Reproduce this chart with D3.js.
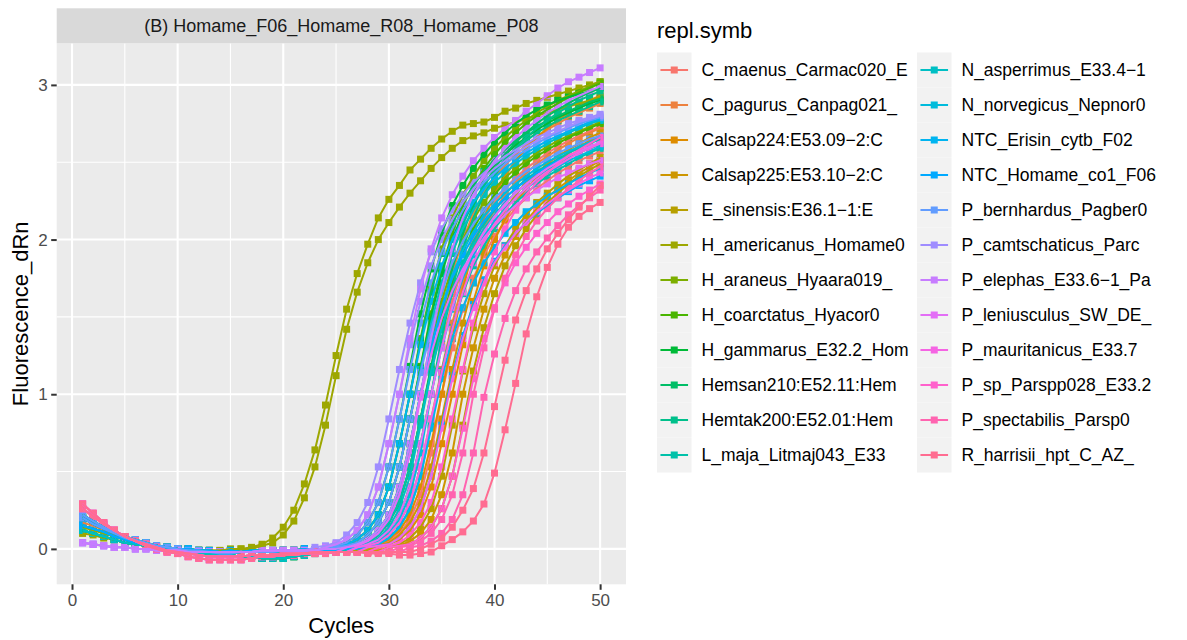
<!DOCTYPE html>
<html>
<head>
<meta charset="utf-8">
<script src="https://cdn.jsdelivr.net/npm/d3@7"></script>
<style>
  body { margin: 0; background: #fff; }
  text { font-family: "Liberation Sans", Arial, Helvetica, sans-serif; }
</style>
</head>
<body>
<div id="chart"></div>
<script>
// ---- data ----
const cycles = [1,2,3,4,5,6,7,8,9,10,11,12,13,14,15,16,17,18,19,20,21,22,23,24,25,26,27,28,29,30,31,32,33,34,35,36,37,38,39,40,41,42,43,44,45,46,47,48,49,50];
const xTicks = [0, 10, 20, 30, 40, 50];
const xMinor = [5, 15, 25, 35, 45];
const yTicks = [0, 1, 2, 3];
const yMinor = [0.5, 1.5, 2.5];

const groupNames = ["C_maenus_Carmac020_E","C_pagurus_Canpag021_","Calsap224:E53.09−2:C","Calsap225:E53.10−2:C",
  "E_sinensis:E36.1−1:E","H_americanus_Homame0","H_araneus_Hyaara019_","H_coarctatus_Hyacor0",
  "H_gammarus_E32.2_Hom","Hemsan210:E52.11:Hem","Hemtak200:E52.01:Hem","L_maja_Litmaj043_E33",
  "N_asperrimus_E33.4−1","N_norvegicus_Nepnor0","NTC_Erisin_cytb_F02","NTC_Homame_co1_F06",
  "P_bernhardus_Pagber0","P_camtschaticus_Parc","P_elephas_E33.6−1_Pa","P_leniusculus_SW_DE_",
  "P_mauritanicus_E33.7","P_sp_Parspp028_E33.2","P_spectabilis_Parsp0","R_harrisii_hpt_C_AZ_"];

// fluorescence (dRn) per cycle 1..50, two replicates per sample
const cMaenus1 = [0.20,0.16,0.13,0.10,0.07,0.05,0.03,0.02,0.01,0.00,-0.01,-0.01,-0.02,-0.02,-0.02,-0.02,-0.02,-0.02,-0.01,-0.01,-0.01,-0.01,-0.01,-0.01,-0.01,0.00,
  0.01,0.03,0.06,0.12,0.22,0.40,0.68,1.00,1.32,1.60,1.83,2.00,2.13,2.24,2.33,2.40,2.46,2.51,2.56,2.60,2.64,2.67,2.70,2.73];
const cMaenus2 = [0.15,0.13,0.11,0.08,0.06,0.04,0.03,0.02,0.01,0.00,0.00,-0.01,-0.01,-0.02,-0.01,-0.02,-0.01,-0.01,-0.02,-0.01,-0.01,0.00,-0.01,0.00,0.00,0.00,0.00,
  0.01,0.02,0.05,0.10,0.19,0.35,0.62,1.00,1.30,1.55,1.75,1.90,2.02,2.12,2.20,2.27,2.33,2.38,2.43,2.47,2.51,2.54,2.57];
const cPagurus1 = [0.22,0.18,0.14,0.11,0.08,0.06,0.04,0.02,0.01,0.00,-0.01,-0.02,-0.02,-0.03,-0.03,-0.02,-0.02,-0.02,-0.02,-0.01,-0.01,-0.01,-0.01,0.00,0.00,
  0.01,0.02,0.04,0.09,0.17,0.30,0.53,0.84,1.17,1.50,1.78,2.00,2.17,2.30,2.40,2.48,2.55,2.61,2.66,2.71,2.75,2.79,2.82,2.85,2.88];
const cPagurus2 = [0.17,0.15,0.12,0.10,0.07,0.05,0.03,0.02,0.01,0.00,-0.01,-0.01,-0.02,-0.02,-0.02,-0.02,-0.02,-0.02,-0.01,-0.01,-0.01,-0.01,-0.01,-0.01,-0.01,0.00,
  0.01,0.02,0.04,0.09,0.17,0.30,0.53,0.84,1.16,1.46,1.72,1.92,2.07,2.19,2.29,2.37,2.43,2.49,2.54,2.58,2.62,2.66,2.69,2.72];
const cCalsap224a = [0.15,0.13,0.11,0.08,0.06,0.04,0.03,0.02,0.01,0.00,0.00,-0.01,-0.01,-0.02,-0.01,-0.02,-0.01,-0.01,-0.02,-0.01,-0.01,0.00,-0.01,0.00,0.00,0.00,0.00,
  0.01,0.03,0.06,0.12,0.22,0.40,0.68,1.00,1.36,1.68,1.94,2.14,2.29,2.41,2.51,2.59,2.66,2.72,2.77,2.82,2.86,2.90,2.93];
const cCalsap224b = [0.22,0.18,0.14,0.11,0.08,0.06,0.04,0.02,0.01,0.00,-0.01,-0.02,-0.02,-0.03,-0.03,-0.02,-0.02,-0.02,-0.02,-0.01,-0.01,-0.01,-0.01,0.00,0.00,0.00,0.00,0.00,
  0.01,0.03,0.06,0.12,0.22,0.40,0.68,1.00,1.32,1.60,1.83,2.00,2.13,2.24,2.33,2.40,2.46,2.51,2.56,2.60,2.64,2.67];
const cCalsap225a = [0.20,0.16,0.13,0.10,0.07,0.05,0.03,0.02,0.01,0.00,-0.01,-0.01,-0.02,-0.02,-0.02,-0.02,-0.02,-0.02,-0.01,-0.01,-0.01,-0.01,-0.01,-0.01,-0.01,0.00,0.00,
  0.01,0.02,0.04,0.09,0.17,0.30,0.53,0.84,1.16,1.46,1.72,1.92,2.07,2.19,2.29,2.37,2.43,2.49,2.54,2.58,2.62,2.66,2.69];
const cCalsap225b = [0.12,0.10,0.08,0.06,0.04,0.03,0.02,0.01,0.00,-0.01,-0.02,-0.03,-0.03,-0.04,-0.04,-0.05,-0.05,-0.06,-0.06,-0.06,-0.05,-0.04,-0.03,-0.02,-0.02,-0.01,-0.01,-0.01,-0.01,
  0.01,0.02,0.05,0.10,0.19,0.35,0.62,1.00,1.30,1.55,1.75,1.90,2.02,2.12,2.20,2.27,2.33,2.38,2.43,2.47,2.51];
const cEsinensis1 = [0.12,0.10,0.08,0.06,0.04,0.03,0.02,0.01,0.00,-0.01,-0.02,-0.03,-0.03,-0.04,-0.04,-0.05,-0.05,-0.06,-0.06,-0.06,-0.05,-0.04,-0.03,-0.02,-0.02,-0.01,-0.01,-0.01,
  0.01,0.02,0.03,0.07,0.14,0.26,0.47,0.80,1.15,1.43,1.65,1.83,1.96,2.07,2.16,2.24,2.30,2.36,2.41,2.45,2.49,2.53];
const cEsinensis2 = [0.26,0.21,0.16,0.12,0.08,0.05,0.03,0.01,-0.01,-0.02,-0.03,-0.04,-0.05,-0.05,-0.05,-0.05,-0.04,-0.04,-0.04,-0.03,-0.03,-0.03,-0.02,-0.02,-0.02,-0.02,-0.02,-0.02,-0.02,
  0.01,0.02,0.03,0.07,0.14,0.26,0.47,0.80,1.15,1.43,1.65,1.83,1.96,2.07,2.16,2.24,2.30,2.36,2.41,2.45,2.49];
const cHamer1 = [0.14,0.12,0.10,0.08,0.06,0.04,0.03,0.02,0.01,0.00,0.00,-0.01,-0.01,-0.01,0.00,0.00,
  0.01,0.03,0.07,0.14,0.25,0.42,0.64,0.93,1.25,1.55,1.78,1.97,2.14,2.26,2.35,2.45,2.52,2.59,2.65,2.70,2.74,2.75,2.76,2.79,2.83,2.85,2.88,2.90,2.92,2.94,2.96,2.98,3.00,3.02];
const cHamer2 = [0.10,0.09,0.07,0.06,0.04,0.03,0.02,0.01,0.00,0.00,-0.01,-0.01,-0.01,-0.01,-0.01,0.00,0.00,
  0.02,0.04,0.09,0.18,0.33,0.53,0.80,1.12,1.42,1.66,1.85,2.00,2.11,2.21,2.30,2.38,2.46,2.53,2.59,2.64,2.67,2.69,2.72,2.74,2.76,2.78,2.80,2.82,2.84,2.86,2.88,2.90,2.92];
const cHaraneus1 = [0.15,0.13,0.11,0.08,0.06,0.04,0.03,0.02,0.01,0.00,0.00,-0.01,-0.01,-0.02,-0.01,-0.02,-0.01,-0.01,-0.02,-0.01,-0.01,0.00,-0.01,0.00,
  0.01,0.03,0.06,0.12,0.22,0.40,0.68,1.00,1.36,1.68,1.94,2.14,2.29,2.41,2.51,2.59,2.66,2.72,2.77,2.82,2.86,2.90,2.93,2.96,2.99,3.02];
const cHaraneus2 = [0.20,0.16,0.13,0.10,0.07,0.05,0.03,0.02,0.01,0.00,-0.01,-0.01,-0.02,-0.02,-0.02,-0.02,-0.02,-0.02,-0.01,-0.01,-0.01,-0.01,-0.01,-0.01,-0.01,
  0.01,0.03,0.06,0.12,0.22,0.40,0.68,1.00,1.32,1.60,1.83,2.00,2.13,2.24,2.33,2.40,2.46,2.51,2.56,2.60,2.64,2.67,2.70,2.73,2.76];
const cHcoarct1 = [0.12,0.10,0.08,0.06,0.04,0.03,0.02,0.01,0.00,-0.01,-0.02,-0.03,-0.03,-0.04,-0.04,-0.05,-0.05,-0.06,-0.06,-0.06,-0.05,-0.04,-0.03,-0.02,
  0.01,0.02,0.04,0.09,0.17,0.30,0.53,0.84,1.18,1.52,1.81,2.04,2.22,2.35,2.46,2.55,2.63,2.69,2.75,2.80,2.84,2.88,2.92,2.95,2.98,3.01];
const cHcoarct2 = [0.15,0.13,0.11,0.08,0.06,0.04,0.03,0.02,0.01,0.00,0.00,-0.01,-0.01,-0.02,-0.01,-0.02,-0.01,-0.01,-0.02,-0.01,-0.01,0.00,-0.01,0.00,0.00,
  0.01,0.02,0.04,0.09,0.17,0.30,0.53,0.84,1.16,1.46,1.72,1.92,2.07,2.19,2.29,2.37,2.43,2.49,2.54,2.58,2.62,2.66,2.69,2.72,2.75];
const cHgammarus1 = [0.20,0.16,0.13,0.10,0.07,0.05,0.03,0.02,0.01,0.00,-0.01,-0.01,-0.02,-0.02,-0.02,-0.02,-0.02,-0.02,-0.01,-0.01,-0.01,-0.01,-0.01,
  0.01,0.02,0.04,0.09,0.17,0.30,0.53,0.84,1.18,1.52,1.81,2.04,2.22,2.35,2.46,2.55,2.63,2.69,2.75,2.80,2.84,2.87,2.90,2.92,2.94,2.96,2.98];
const cHgammarus2 = [0.22,0.18,0.14,0.11,0.08,0.06,0.04,0.02,0.01,0.00,-0.01,-0.02,-0.02,-0.03,-0.03,-0.02,-0.02,-0.02,-0.02,-0.01,-0.01,-0.01,-0.01,0.00,
  0.01,0.02,0.04,0.09,0.17,0.30,0.53,0.84,1.17,1.50,1.78,2.00,2.17,2.30,2.40,2.48,2.55,2.61,2.66,2.71,2.75,2.79,2.82,2.85,2.88,2.90];
const cHemsan1 = [0.12,0.10,0.08,0.06,0.04,0.03,0.02,0.01,0.00,-0.01,-0.02,-0.03,-0.03,-0.04,-0.04,-0.05,-0.05,-0.06,-0.06,-0.06,-0.05,-0.04,-0.03,-0.02,
  0.01,0.03,0.06,0.12,0.22,0.40,0.68,1.00,1.35,1.66,1.91,2.10,2.24,2.35,2.44,2.52,2.58,2.64,2.69,2.73,2.77,2.80,2.83,2.86,2.89,2.91];
const cHemsan2 = [0.15,0.13,0.11,0.08,0.06,0.04,0.03,0.02,0.01,0.00,0.00,-0.01,-0.01,-0.02,-0.01,-0.02,-0.01,-0.01,-0.02,-0.01,-0.01,0.00,-0.01,0.00,0.00,
  0.01,0.02,0.04,0.09,0.17,0.30,0.53,0.84,1.18,1.52,1.81,2.04,2.22,2.35,2.46,2.55,2.63,2.69,2.75,2.80,2.84,2.88,2.92,2.95,2.98];
const cHemtak1 = [0.12,0.10,0.08,0.06,0.04,0.03,0.02,0.01,0.00,-0.01,-0.02,-0.03,-0.03,-0.04,-0.04,-0.05,-0.05,-0.06,-0.06,-0.06,-0.05,-0.04,-0.03,-0.02,-0.02,
  0.01,0.03,0.06,0.12,0.22,0.40,0.68,1.00,1.35,1.66,1.91,2.10,2.24,2.35,2.44,2.52,2.58,2.64,2.69,2.73,2.77,2.80,2.83,2.86,2.89];
const cHemtak2 = [0.20,0.16,0.13,0.10,0.07,0.05,0.03,0.02,0.01,0.00,-0.01,-0.01,-0.02,-0.02,-0.02,-0.02,-0.02,-0.02,-0.01,-0.01,-0.01,-0.01,-0.01,-0.01,-0.01,0.00,
  0.01,0.03,0.06,0.12,0.22,0.40,0.68,1.00,1.36,1.68,1.94,2.14,2.29,2.41,2.51,2.59,2.66,2.72,2.77,2.82,2.86,2.90,2.93,2.96];
const cLmaja1 = [0.12,0.10,0.08,0.06,0.04,0.03,0.02,0.01,0.00,-0.01,-0.02,-0.03,-0.03,-0.04,-0.04,-0.05,-0.05,-0.06,-0.06,-0.06,-0.05,-0.04,-0.03,-0.02,-0.02,
  0.01,0.02,0.04,0.09,0.17,0.30,0.53,0.84,1.14,1.42,1.66,1.85,1.99,2.10,2.19,2.27,2.33,2.39,2.44,2.48,2.52,2.56,2.59,2.62,2.65];
const cLmaja2 = [0.12,0.10,0.08,0.06,0.04,0.03,0.02,0.01,0.00,-0.01,-0.02,-0.03,-0.03,-0.04,-0.04,-0.05,-0.05,-0.06,-0.06,-0.06,-0.05,-0.04,-0.03,-0.02,-0.02,-0.01,
  0.01,0.02,0.03,0.07,0.14,0.26,0.47,0.80,1.15,1.43,1.65,1.83,1.96,2.07,2.16,2.24,2.30,2.36,2.41,2.45,2.49,2.53,2.56,2.59];
const cNasp1 = [0.12,0.10,0.08,0.06,0.04,0.03,0.02,0.01,0.00,-0.01,-0.02,-0.03,-0.03,-0.04,-0.04,-0.05,-0.05,-0.06,-0.06,-0.06,-0.05,-0.04,-0.03,-0.02,
  0.01,0.02,0.04,0.09,0.17,0.30,0.53,0.84,1.16,1.46,1.72,1.92,2.07,2.19,2.29,2.37,2.43,2.49,2.54,2.58,2.62,2.66,2.69,2.72,2.75,2.77];
const cNasp2 = [0.15,0.13,0.11,0.08,0.06,0.04,0.03,0.02,0.01,0.00,0.00,-0.01,-0.01,-0.02,-0.01,-0.02,-0.01,-0.01,-0.02,-0.01,-0.01,0.00,-0.01,0.00,0.00,
  0.01,0.02,0.03,0.07,0.14,0.26,0.47,0.80,1.15,1.43,1.65,1.83,1.96,2.07,2.16,2.24,2.30,2.36,2.41,2.45,2.49,2.53,2.56,2.59,2.61];
const cNnor1 = [0.22,0.18,0.14,0.11,0.08,0.06,0.04,0.02,0.01,0.00,-0.01,-0.02,-0.02,-0.03,-0.03,-0.02,-0.02,-0.02,-0.02,-0.01,-0.01,-0.01,-0.01,0.00,0.00,
  0.01,0.03,0.06,0.12,0.22,0.40,0.68,1.00,1.30,1.56,1.77,1.93,2.05,2.15,2.23,2.30,2.36,2.41,2.46,2.50,2.54,2.57,2.60,2.63,2.66];
const cNnor2 = [0.20,0.16,0.13,0.10,0.07,0.05,0.03,0.02,0.01,0.00,-0.01,-0.01,-0.02,-0.02,-0.02,-0.02,-0.02,-0.02,-0.01,-0.01,-0.01,-0.01,-0.01,-0.01,-0.01,0.00,
  0.01,0.02,0.05,0.10,0.19,0.35,0.62,1.00,1.30,1.55,1.75,1.90,2.02,2.12,2.20,2.27,2.33,2.38,2.43,2.47,2.51,2.54,2.57,2.60];
const cNtcEri1 = [0.15,0.13,0.11,0.08,0.06,0.04,0.03,0.02,0.01,0.00,0.00,-0.01,-0.01,-0.02,-0.01,-0.02,-0.01,-0.01,-0.02,-0.01,-0.01,0.00,-0.01,0.00,
  0.01,0.03,0.06,0.12,0.22,0.40,0.68,1.00,1.32,1.60,1.83,2.00,2.13,2.24,2.33,2.40,2.46,2.51,2.56,2.60,2.64,2.67,2.70,2.73,2.76,2.78];
const cNtcEri2 = [0.22,0.18,0.14,0.11,0.08,0.06,0.04,0.02,0.01,0.00,-0.01,-0.02,-0.02,-0.03,-0.03,-0.02,-0.02,-0.02,-0.02,-0.01,-0.01,-0.01,-0.01,0.00,0.00,0.00,
  0.01,0.02,0.03,0.07,0.14,0.26,0.47,0.78,1.10,1.36,1.56,1.72,1.85,1.95,2.04,2.11,2.18,2.23,2.28,2.32,2.36,2.40,2.43,2.46];
const cNtcHom1 = [0.20,0.16,0.13,0.10,0.07,0.05,0.03,0.02,0.01,0.00,-0.01,-0.01,-0.02,-0.02,-0.02,-0.02,-0.02,-0.02,-0.01,-0.01,-0.01,-0.01,-0.01,-0.01,-0.01,
  0.01,0.02,0.05,0.10,0.19,0.35,0.62,1.00,1.30,1.55,1.75,1.90,2.02,2.12,2.20,2.27,2.33,2.38,2.43,2.47,2.51,2.54,2.57,2.60,2.62];
const cNtcHom2 = [0.15,0.13,0.11,0.08,0.06,0.04,0.03,0.02,0.01,0.00,0.00,-0.01,-0.01,-0.02,-0.01,-0.02,-0.01,-0.01,-0.02,-0.01,-0.01,0.00,-0.01,0.00,0.00,0.00,0.00,
  0.01,0.02,0.03,0.07,0.14,0.26,0.47,0.80,1.12,1.38,1.58,1.74,1.86,1.96,2.04,2.11,2.17,2.22,2.27,2.31,2.35,2.38,2.41];
const cPbern1 = [0.20,0.16,0.13,0.10,0.07,0.05,0.03,0.02,0.01,0.00,-0.01,-0.01,-0.02,-0.02,-0.02,-0.02,-0.02,-0.02,-0.01,-0.01,-0.01,-0.01,-0.01,
  0.01,0.02,0.04,0.09,0.17,0.30,0.53,0.84,1.16,1.46,1.72,1.92,2.07,2.19,2.29,2.37,2.43,2.49,2.54,2.58,2.62,2.66,2.69,2.72,2.75,2.77,2.79];
const cPbern2 = [0.22,0.18,0.14,0.11,0.08,0.06,0.04,0.02,0.01,0.00,-0.01,-0.02,-0.02,-0.03,-0.03,-0.02,-0.02,-0.02,-0.02,-0.01,-0.01,-0.01,-0.01,0.00,
  0.01,0.02,0.04,0.09,0.17,0.30,0.53,0.84,1.14,1.42,1.66,1.85,1.99,2.10,2.19,2.27,2.33,2.39,2.44,2.48,2.52,2.56,2.59,2.62,2.65,2.67];
const cPcamt1 = [0.04,0.03,0.02,0.01,0.01,0.00,0.00,-0.01,-0.01,-0.01,-0.02,-0.02,-0.02,-0.02,-0.02,-0.02,-0.02,-0.01,-0.01,-0.01,-0.01,-0.01,
  0.01,0.02,0.04,0.09,0.17,0.30,0.53,0.84,1.16,1.46,1.72,1.92,2.07,2.19,2.29,2.37,2.43,2.49,2.54,2.58,2.62,2.66,2.69,2.72,2.75,2.77,2.79,2.81];
const cPcamt2 = [0.04,0.03,0.02,0.01,0.01,0.00,0.00,-0.01,-0.01,-0.01,-0.02,-0.02,-0.02,-0.02,-0.02,-0.02,-0.02,-0.01,-0.01,-0.01,-0.01,-0.01,-0.01,
  0.01,0.03,0.06,0.12,0.22,0.40,0.68,1.00,1.32,1.60,1.83,2.00,2.13,2.24,2.33,2.40,2.46,2.51,2.56,2.60,2.64,2.67,2.70,2.73,2.76,2.78,2.80];
const cPeleph1 = [0.04,0.03,0.02,0.01,0.01,0.00,0.00,-0.01,-0.01,-0.01,-0.02,-0.02,-0.02,-0.02,-0.02,-0.02,-0.02,-0.01,-0.01,-0.01,-0.01,-0.01,-0.01,
  0.01,0.03,0.06,0.12,0.22,0.40,0.68,1.00,1.36,1.68,1.94,2.14,2.29,2.41,2.51,2.59,2.66,2.72,2.77,2.83,2.88,2.93,2.98,3.02,3.05,3.08,3.11];
const cPeleph2 = [0.04,0.03,0.02,0.01,0.01,0.00,0.00,-0.01,-0.01,-0.01,-0.02,-0.02,-0.02,-0.02,-0.02,-0.02,-0.02,-0.01,-0.01,-0.01,-0.01,-0.01,-0.01,0.00,0.00,
  0.01,0.03,0.06,0.12,0.22,0.40,0.68,1.00,1.36,1.68,1.94,2.14,2.29,2.41,2.51,2.59,2.66,2.72,2.77,2.82,2.86,2.90,2.93,2.96,2.99];
const cPleni1 = [0.29,0.23,0.17,0.12,0.08,0.05,0.02,0.00,-0.02,-0.03,-0.05,-0.06,-0.07,-0.07,-0.07,-0.07,-0.06,-0.05,-0.05,-0.04,-0.04,-0.03,-0.03,-0.03,-0.02,
  0.01,0.02,0.05,0.10,0.19,0.35,0.62,0.98,1.26,1.49,1.67,1.81,1.92,2.01,2.09,2.16,2.22,2.27,2.32,2.36,2.40,2.43,2.46,2.49,2.51];
const cPleni2 = [0.26,0.21,0.16,0.12,0.08,0.05,0.03,0.01,-0.01,-0.02,-0.03,-0.04,-0.05,-0.05,-0.05,-0.05,-0.04,-0.04,-0.04,-0.03,-0.03,-0.03,-0.02,-0.02,-0.02,-0.02,
  0.01,0.03,0.06,0.12,0.22,0.40,0.68,1.00,1.30,1.56,1.77,1.93,2.05,2.15,2.23,2.30,2.36,2.41,2.46,2.50,2.54,2.57,2.60,2.63];
const cPmaur1 = [0.29,0.23,0.17,0.12,0.08,0.05,0.02,0.00,-0.02,-0.03,-0.05,-0.06,-0.07,-0.07,-0.07,-0.07,-0.06,-0.05,-0.05,-0.04,-0.04,-0.03,-0.03,-0.03,-0.02,-0.02,
  0.01,0.02,0.04,0.09,0.17,0.30,0.53,0.84,1.14,1.42,1.66,1.85,1.99,2.10,2.19,2.27,2.33,2.39,2.44,2.48,2.52,2.56,2.59,2.62];
const cPmaur2 = [0.26,0.21,0.16,0.12,0.08,0.05,0.03,0.01,-0.01,-0.02,-0.03,-0.04,-0.05,-0.05,-0.05,-0.05,-0.04,-0.04,-0.04,-0.03,-0.03,-0.03,-0.02,-0.02,-0.02,-0.02,-0.02,
  0.01,0.02,0.03,0.07,0.14,0.26,0.47,0.78,1.10,1.36,1.56,1.72,1.85,1.95,2.04,2.11,2.18,2.23,2.28,2.32,2.36,2.40,2.43];
const cPsp1 = [0.29,0.23,0.17,0.12,0.08,0.05,0.02,0.00,-0.02,-0.03,-0.05,-0.06,-0.07,-0.07,-0.07,-0.07,-0.06,-0.05,-0.05,-0.04,-0.04,-0.03,-0.03,-0.03,-0.02,-0.02,-0.02,-0.02,
  0.01,0.02,0.04,0.09,0.17,0.30,0.53,0.84,1.16,1.46,1.72,1.92,2.07,2.19,2.29,2.37,2.43,2.49,2.54,2.58,2.62,2.66];
const cPsp2 = [0.26,0.21,0.16,0.12,0.08,0.05,0.03,0.01,-0.01,-0.02,-0.03,-0.04,-0.05,-0.05,-0.05,-0.05,-0.04,-0.04,-0.04,-0.03,-0.03,-0.03,-0.02,-0.02,-0.02,-0.02,-0.02,-0.02,-0.02,
  0.01,0.02,0.03,0.07,0.14,0.26,0.47,0.78,1.10,1.36,1.56,1.72,1.85,1.95,2.04,2.11,2.18,2.23,2.28,2.32,2.36];
const cPspec1 = [0.29,0.23,0.17,0.12,0.08,0.05,0.02,0.00,-0.02,-0.03,-0.05,-0.06,-0.07,-0.07,-0.07,-0.07,-0.06,-0.05,-0.05,-0.04,-0.04,-0.03,-0.03,-0.03,-0.02,-0.02,-0.02,-0.02,-0.02,-0.02,
  0.01,0.02,0.05,0.10,0.19,0.35,0.62,1.00,1.30,1.55,1.75,1.90,2.02,2.12,2.20,2.27,2.33,2.38,2.43,2.47];
const cPspec2 = [0.26,0.21,0.16,0.12,0.08,0.05,0.03,0.01,-0.01,-0.02,-0.03,-0.04,-0.05,-0.05,-0.05,-0.05,-0.04,-0.04,-0.04,-0.03,-0.03,-0.03,-0.02,-0.02,-0.02,-0.02,-0.02,-0.02,-0.02,-0.02,-0.02,
  0.01,0.02,0.05,0.10,0.19,0.35,0.62,0.98,1.26,1.49,1.67,1.81,1.92,2.01,2.09,2.16,2.22,2.27,2.32];
const cRharr1 = [0.29,0.23,0.17,0.12,0.08,0.05,0.02,0.00,-0.02,-0.03,-0.05,-0.06,-0.07,-0.07,-0.07,-0.07,-0.06,-0.05,-0.05,-0.04,-0.04,-0.03,-0.03,-0.03,-0.02,-0.02,-0.02,-0.03,-0.03,-0.03,-0.04,-0.04,-0.03,
  -0.02,0.02,0.06,0.11,0.18,0.29,0.49,0.77,1.07,1.39,1.63,1.82,1.97,2.08,2.15,2.20,2.24];
const cRharr2 = [0.26,0.21,0.16,0.12,0.08,0.05,0.03,0.01,-0.01,-0.02,-0.03,-0.04,-0.05,-0.05,-0.05,-0.05,-0.04,-0.04,-0.04,-0.03,-0.03,-0.03,-0.02,-0.02,-0.02,-0.02,-0.02,-0.02,-0.02,-0.02,-0.02,-0.02,
  0.00,0.03,0.07,0.14,0.25,0.39,0.62,0.92,1.22,1.48,1.67,1.81,1.94,2.04,2.13,2.21,2.28,2.35];

// which sample each replicate belongs to (index into groupNames)
const series = [
  {g: 0, values: cMaenus1}, {g: 0, values: cMaenus2},
  {g: 1, values: cPagurus1}, {g: 1, values: cPagurus2},
  {g: 2, values: cCalsap224a}, {g: 2, values: cCalsap224b},
  {g: 3, values: cCalsap225a}, {g: 3, values: cCalsap225b},
  {g: 4, values: cEsinensis1}, {g: 4, values: cEsinensis2},
  {g: 5, values: cHamer1}, {g: 5, values: cHamer2},
  {g: 6, values: cHaraneus1}, {g: 6, values: cHaraneus2},
  {g: 7, values: cHcoarct1}, {g: 7, values: cHcoarct2},
  {g: 8, values: cHgammarus1}, {g: 8, values: cHgammarus2},
  {g: 9, values: cHemsan1}, {g: 9, values: cHemsan2},
  {g: 10, values: cHemtak1}, {g: 10, values: cHemtak2},
  {g: 11, values: cLmaja1}, {g: 11, values: cLmaja2},
  {g: 12, values: cNasp1}, {g: 12, values: cNasp2},
  {g: 13, values: cNnor1}, {g: 13, values: cNnor2},
  {g: 14, values: cNtcEri1}, {g: 14, values: cNtcEri2},
  {g: 15, values: cNtcHom1}, {g: 15, values: cNtcHom2},
  {g: 16, values: cPbern1}, {g: 16, values: cPbern2},
  {g: 17, values: cPcamt1}, {g: 17, values: cPcamt2},
  {g: 18, values: cPeleph1}, {g: 18, values: cPeleph2},
  {g: 19, values: cPleni1}, {g: 19, values: cPleni2},
  {g: 20, values: cPmaur1}, {g: 20, values: cPmaur2},
  {g: 21, values: cPsp1}, {g: 21, values: cPsp2},
  {g: 22, values: cPspec1}, {g: 22, values: cPspec2},
  {g: 23, values: cRharr1}, {g: 23, values: cRharr2}
];

// ggplot-style hue palette (polar LUV, l = 65, c = 100)
function hclLuv(h, c, l) {
  const hr = h * Math.PI / 180;
  const U = c * Math.cos(hr), V = c * Math.sin(hr);
  const Xn = 95.047, Yn = 100, Zn = 108.883;
  const den = Xn + 15 * Yn + 3 * Zn;
  const un = 4 * Xn / den, vn = 9 * Yn / den;
  const Y = l > 8 ? Yn * Math.pow((l + 16) / 116, 3) : Yn * l / 903.3;
  const u = U / (13 * l) + un, v = V / (13 * l) + vn;
  const X = 9 * Y * u / (4 * v);
  const Z = -X / 3 - 5 * Y + 3 * Y / v;
  const x = X / 100, y = Y / 100, z = Z / 100;
  const lin = [
    3.240479 * x - 1.537150 * y - 0.498535 * z,
    -0.969256 * x + 1.875992 * y + 0.041556 * z,
    0.055648 * x - 0.204043 * y + 1.057311 * z
  ];
  const rgb = lin.map(t => {
    const g = t <= 0.0031308 ? 12.92 * t : 1.055 * Math.pow(t, 1 / 2.4) - 0.055;
    return Math.round(255 * Math.max(0, Math.min(1, g)));
  });
  return d3.rgb(rgb[0], rgb[1], rgb[2]).formatHex();
}
const palette = groupNames.map((d, i) => hclLuv(15 + i * 360 / groupNames.length, 100, 65));

// ---- layout ----
const width = 1187, height = 640;
const panel = { left: 56.7, right: 626, top: 43.3, bottom: 584.3 };
const strip = { top: 8.3, bottom: 43.3 };

const svg = d3.select("#chart").append("svg")
  .attr("width", width)
  .attr("height", height)
  .style("background", "#fff");

// scales with ggplot's 5% expansion
const xExt = d3.extent(cycles);
const xPad = (xExt[1] - xExt[0]) * 0.05;
const x = d3.scaleLinear()
  .domain([xExt[0] - xPad, xExt[1] + xPad])
  .range([panel.left, panel.right]);

const allVals = series.flatMap(s => s.values);
const yExt = d3.extent(allVals);
const yPad = (yExt[1] - yExt[0]) * 0.05;
const y = d3.scaleLinear()
  .domain([yExt[0] - yPad, yExt[1] + yPad])
  .range([panel.bottom, panel.top]);

// panel background
svg.append("rect")
  .attr("x", panel.left).attr("y", panel.top)
  .attr("width", panel.right - panel.left).attr("height", panel.bottom - panel.top)
  .attr("fill", "#EBEBEB");

// grid lines, minor then major
const grid = svg.append("g").attr("stroke", "#fff");
grid.selectAll(".vminor").data(xMinor).enter().append("line")
  .attr("x1", d => x(d)).attr("x2", d => x(d))
  .attr("y1", panel.top).attr("y2", panel.bottom)
  .attr("stroke-width", 1.1);
grid.selectAll(".hminor").data(yMinor).enter().append("line")
  .attr("x1", panel.left).attr("x2", panel.right)
  .attr("y1", d => y(d)).attr("y2", d => y(d))
  .attr("stroke-width", 1.1);
grid.selectAll(".vmajor").data(xTicks).enter().append("line")
  .attr("x1", d => x(d)).attr("x2", d => x(d))
  .attr("y1", panel.top).attr("y2", panel.bottom)
  .attr("stroke-width", 2.1);
grid.selectAll(".hmajor").data(yTicks).enter().append("line")
  .attr("x1", panel.left).attr("x2", panel.right)
  .attr("y1", d => y(d)).attr("y2", d => y(d))
  .attr("stroke-width", 2.1);

// facet strip
svg.append("rect")
  .attr("x", panel.left).attr("y", strip.top)
  .attr("width", panel.right - panel.left).attr("height", strip.bottom - strip.top)
  .attr("fill", "#D9D9D9");
svg.append("text")
  .attr("x", (panel.left + panel.right) / 2)
  .attr("y", (strip.top + strip.bottom) / 2)
  .attr("text-anchor", "middle")
  .attr("dominant-baseline", "central")
  .attr("font-size", "18px")
  .attr("fill", "#1A1A1A")
  .text("(B) Homame_F06_Homame_R08_Homame_P08");

// curves: points first, then lines
const clipId = "panel-clip";
svg.append("clipPath").attr("id", clipId).append("rect")
  .attr("x", panel.left).attr("y", panel.top)
  .attr("width", panel.right - panel.left).attr("height", panel.bottom - panel.top);
const plot = svg.append("g").attr("clip-path", "url(#" + clipId + ")");

const sq = 7;
series.forEach(s => {
  plot.append("g").selectAll("rect")
    .data(s.values)
    .enter().append("rect")
    .attr("x", (d, i) => x(cycles[i]) - sq / 2)
    .attr("y", d => y(d) - sq / 2)
    .attr("width", sq).attr("height", sq)
    .attr("fill", palette[s.g]);
});

const line = d3.line()
  .x((d, i) => x(cycles[i]))
  .y(d => y(d));
series.forEach(s => {
  plot.append("path")
    .datum(s.values)
    .attr("fill", "none")
    .attr("stroke", palette[s.g])
    .attr("stroke-width", 2)
    .attr("stroke-linejoin", "round")
    .attr("d", line);
});

// axes
const xAxis = svg.append("g")
  .attr("transform", "translate(0," + panel.bottom + ")")
  .call(d3.axisBottom(x).tickValues(xTicks).tickSize(5.5).tickPadding(4.5));
const yAxis = svg.append("g")
  .attr("transform", "translate(" + panel.left + ",0)")
  .call(d3.axisLeft(y).tickValues(yTicks).tickFormat(d3.format("d")).tickSize(5.5).tickPadding(3.5));
[xAxis, yAxis].forEach(a => {
  a.select(".domain").remove();
  a.selectAll(".tick line").attr("stroke", "#333333").attr("stroke-width", 2);
  a.selectAll(".tick text")
    .attr("fill", "#4D4D4D")
    .style("font-size", "17px")
    .style("font-family", "'Liberation Sans', Arial, sans-serif");
});

// axis titles
svg.append("text")
  .attr("x", (panel.left + panel.right) / 2)
  .attr("y", 633)
  .attr("text-anchor", "middle")
  .attr("font-size", "22px")
  .attr("fill", "#000")
  .text("Cycles");
svg.append("text")
  .attr("transform", "translate(28," + (panel.top + panel.bottom) / 2 + ") rotate(-90)")
  .attr("text-anchor", "middle")
  .attr("font-size", "22px")
  .attr("fill", "#000")
  .text("Fluorescence_dRn");

// legend
const legend = svg.append("g");
legend.append("text")
  .attr("x", 657).attr("y", 38)
  .attr("font-size", "22px")
  .attr("fill", "#000")
  .text("repl.symb");

const keyW = 34.5, keyH = 35, keyTop = 52.5;
const colX = [657, 917];
const items = legend.selectAll(".key").data(groupNames).enter().append("g")
  .attr("transform", (d, i) => "translate(" + colX[Math.floor(i / 12)] + "," + (keyTop + (i % 12) * keyH) + ")");
items.append("rect")
  .attr("width", keyW).attr("height", keyH)
  .attr("fill", "#F2F2F2");
items.append("line")
  .attr("x1", keyW * 0.1).attr("x2", keyW * 0.9)
  .attr("y1", keyH / 2).attr("y2", keyH / 2)
  .attr("stroke", (d, i) => palette[i])
  .attr("stroke-width", 2);
items.append("rect")
  .attr("x", keyW / 2 - sq / 2).attr("y", keyH / 2 - sq / 2)
  .attr("width", sq).attr("height", sq)
  .attr("fill", (d, i) => palette[i]);
items.append("text")
  .attr("x", keyW + 10)
  .attr("y", keyH / 2)
  .attr("dominant-baseline", "central")
  .attr("font-size", "17.5px")
  .attr("fill", "#000")
  .text(d => d);
</script>
</body>
</html>
